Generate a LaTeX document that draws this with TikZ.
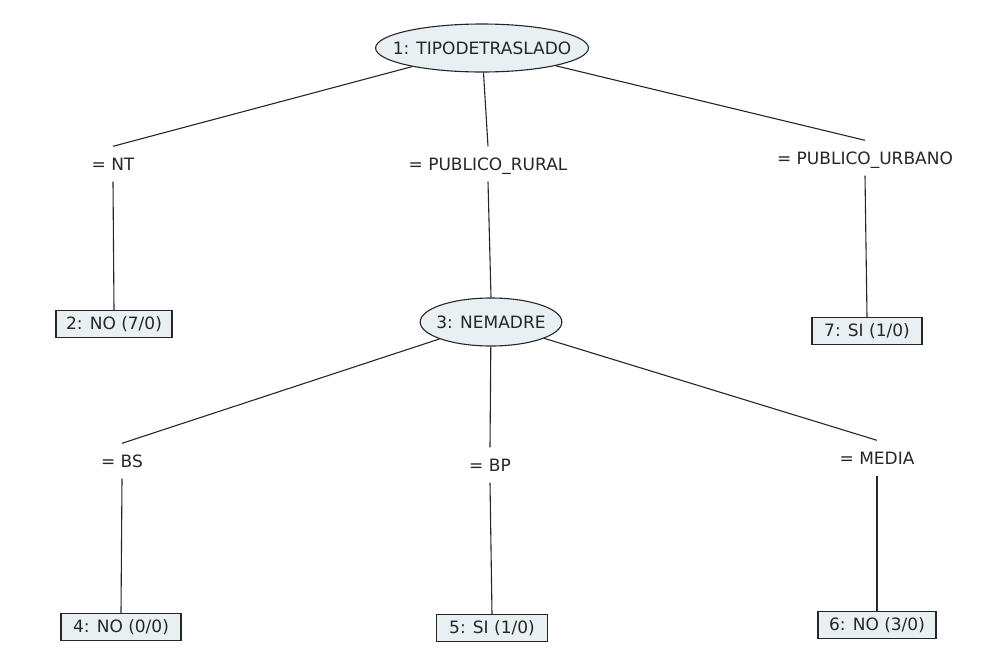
\documentclass[tikz,border=0pt]{standalone}
\usepackage{fontspec}
\setmainfont{DejaVu Sans}
\usetikzlibrary{shapes.geometric}
\definecolor{nodefill}{HTML}{E8F0F3}
\definecolor{ink}{HTML}{262626}
\tikzset{
  px/.style={x=1pt,y=-1pt},
  txt/.style={font=\fontsize{17}{19}\selectfont,text=ink},
  split/.style={ellipse,draw=ink,fill=nodefill,line width=1.1pt,
    minimum height=48pt,inner ysep=0pt,inner xsep=#1,txt},
  leaf/.style={rectangle,draw=ink,fill=nodefill,line width=1.1pt,
    minimum width=#1,minimum height=27pt,inner sep=0pt,txt},
  cond/.style={inner xsep=2pt,inner ysep=11pt,text height=13pt,
    text depth=0pt,txt},
  branch/.style={draw=ink,line width=1.1pt}
}
\begin{document}
\begin{tikzpicture}[px]
\useasboundingbox (0,0) rectangle (990,649);
% internal tests (negative xsep keeps the ellipses close to the text)
\node[split=-14pt] (root) at (482,48) {1: TIPODETRASLADO};
\node[split=-4.5pt] (nemadre) at (491,322) {3: NEMADRE};
% branch conditions
\node[cond] (nt) at (113,164) {= NT};
\node[cond] (rural) at (488,164) {= PUBLICO\_RURAL};
\node[cond] (urbano) at (865,158) {= PUBLICO\_URBANO};
\node[cond] (bs) at (122,461) {= BS};
\node[cond] (bp) at (490,465) {= BP};
\node[cond] (media) at (877,458) {= MEDIA};
% leaves
\node[leaf=116pt] (n2) at (114,324) {2: NO (7/0)};
\node[leaf=110pt] (n7) at (867,331) {7: SI (1/0)};
\node[leaf=120pt] (n4) at (121,627) {4: NO (0/0)};
\node[leaf=111pt] (n5) at (492,628) {5: SI (1/0)};
\node[leaf=118pt] (n6) at (877,625) {6: NO (3/0)};
% connectors
\draw[branch] (root) -- (nt.north);
\draw[branch] (nt.south) -- (n2.north);
\draw[branch] (root) -- (rural.north);
\draw[branch] (rural.south) -- (nemadre.north);
\draw[branch] (root) -- (urbano.north);
\draw[branch] (urbano.south) -- (n7.north);
\draw[branch] (nemadre) -- (bs.north);
\draw[branch] (bs.south) -- (n4.north);
\draw[branch] (nemadre) -- (bp.north);
\draw[branch] (bp.south) -- (n5.north);
\draw[branch] (nemadre) -- (media.north);
\draw[branch] (media.south) -- (n6.north);
\end{tikzpicture}
\end{document}
